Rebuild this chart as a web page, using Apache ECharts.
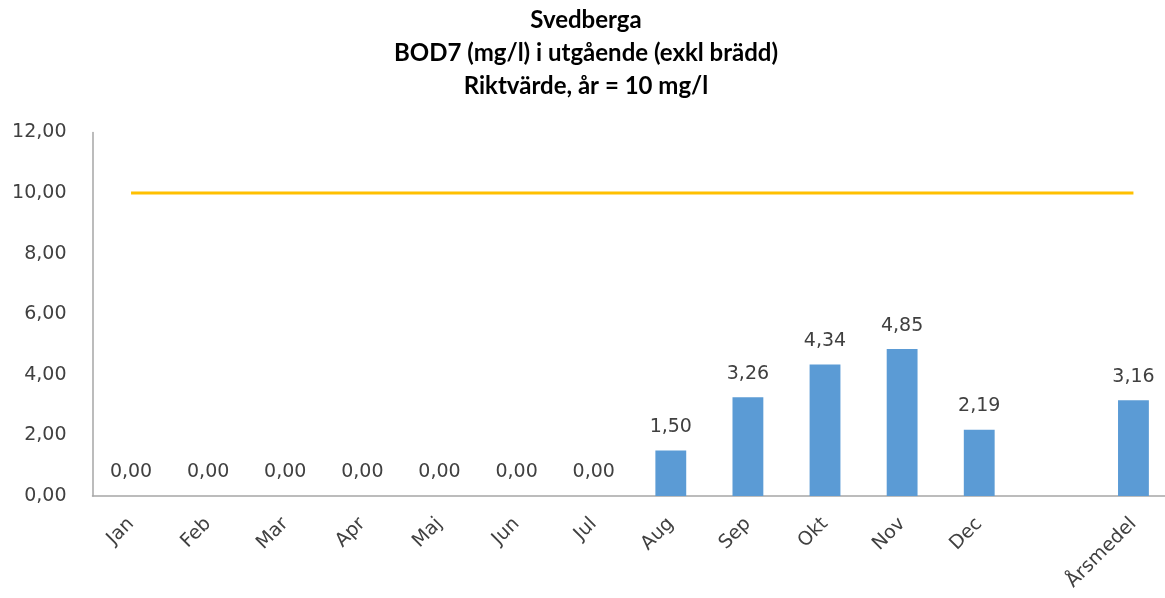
<!DOCTYPE html>
<html>
<head>
<meta charset="utf-8">
<script src="https://cdn.jsdelivr.net/npm/echarts@6/dist/echarts.min.js"></script>
<style>html,body{margin:0;padding:0;background:#fff;overflow:hidden;}#c{width:1172px;height:598px;}</style>
</head>
<body>
<div id="c"></div>
<script>
const titleLines = ['Svedberga', 'BOD7 (mg/l) i utgående (exkl brädd)', 'Riktvärde, år = 10 mg/l'];
const categories = ['Jan','Feb','Mar','Apr','Maj','Jun','Jul','Aug','Sep','Okt','Nov','Dec','','Årsmedel'];
const bod7Values = [0.00,0.00,0.00,0.00,0.00,0.00,0.00,1.50,3.26,4.34,4.85,2.19,null,3.16];
const guideValues = [10,10,10,10,10,10,10,10,10,10,10,10,10,10];
const yTicks = {min: 0, max: 12, interval: 2};

const fmt = v => Number(v).toFixed(2).replace('.', ',');
const font = '"DejaVu Sans", "Noto Sans", sans-serif';

const chart = echarts.init(document.getElementById('c'), null, {renderer: 'canvas'});
chart.setOption({
  animation: false,
  backgroundColor: '#ffffff',
  title: {
    text: titleLines.join('\n'),
    left: 'center',
    top: -1,
    padding: [5, 0, 5, 8],
    textStyle: {
      fontFamily: 'Lato, "Liberation Sans", sans-serif',
      fontWeight: 'bold',
      fontSize: 24,
      lineHeight: 33,
      color: '#000000'
    }
  },
  grid: {left: 92.5, right: 0, top: 132.5, bottom: 102, containLabel: false},
  xAxis: {
    type: 'category',
    data: categories,
    axisLine: {show: true, lineStyle: {color: '#a6a6a6', width: 1.5}},
    axisTick: {show: false},
    axisLabel: {
      interval: 0, rotate: 45, margin: 25,
      fontFamily: font, fontSize: 19, color: '#404040'
    }
  },
  yAxis: {
    type: 'value',
    min: yTicks.min, max: yTicks.max, interval: yTicks.interval,
    axisLine: {show: true, lineStyle: {color: '#a6a6a6', width: 1.5}},
    axisTick: {show: false},
    splitLine: {show: false},
    axisLabel: {
      margin: 26, formatter: v => fmt(v),
      fontFamily: font, fontSize: 19, color: '#404040'
    }
  },
  series: [
    {
      type: 'bar',
      data: bod7Values,
      barWidth: '40%',
      itemStyle: {color: '#5B9BD5'},
      label: {
        show: true, position: 'top', distance: 14,
        formatter: p => (p.value == null ? '' : fmt(p.value)),
        fontFamily: font, fontSize: 19, color: '#404040'
      }
    },
    {
      type: 'line',
      data: guideValues,
      symbol: 'none',
      lineStyle: {color: '#FFC000', width: 3},
      z: 3
    }
  ]
});
</script>
</body>
</html>
